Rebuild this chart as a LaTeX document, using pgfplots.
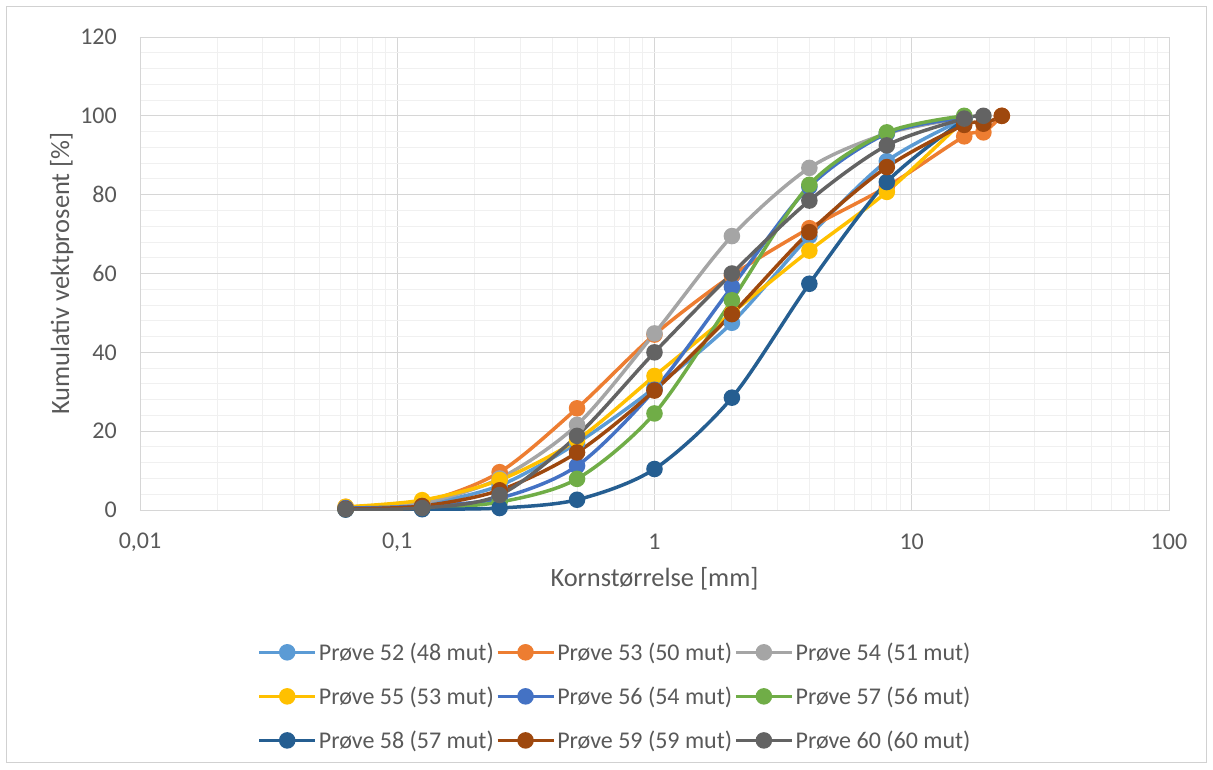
\documentclass[border=0pt]{standalone}
\usepackage{pgfplots}
\pgfplotsset{compat=1.18}
\usepackage{fontspec}
\setmainfont{Carlito}
\definecolor{txt}{HTML}{595959}
\definecolor{c52}{HTML}{5B9BD5}
\definecolor{c53}{HTML}{ED7D31}
\definecolor{c54}{HTML}{A5A5A5}
\definecolor{c55}{HTML}{FFC000}
\definecolor{c56}{HTML}{4472C4}
\definecolor{c57}{HTML}{70AD47}
\definecolor{c58}{HTML}{255E91}
\definecolor{c59}{HTML}{9E480E}
\definecolor{c60}{HTML}{636363}
\begin{document}
\begin{tikzpicture}
\useasboundingbox (-140pt,-259pt) rectangle (1073pt,510pt);
\draw[color=black!18, line width=1pt] (-133pt,-252pt) rectangle (1066pt,503pt);
\begin{axis}[
  at={(0pt,0pt)}, anchor=south west,
  scale only axis, width=1029pt, height=473pt,
  xmode=log, xmin=0.01, xmax=100, ymin=0, ymax=120,
  xtick={0.01,0.1,1,10,100},
  xticklabels={{0,01},{0,1},1,10,100},
  ytick={0,20,...,120}, minor y tick num=4,
  grid=both,
  major grid style={draw=black!16, line width=0.9pt},
  minor grid style={draw=black!6, line width=0.9pt},
  axis line style={draw=black!16, line width=0.9pt},
  tick style={draw=none},
  major tick length=0pt, minor tick length=0pt,
  /pgf/number format/assume math mode=true,
  ticklabel style={font=\fontsize{24}{28}\selectfont, text=txt, inner sep=0pt},
  xticklabel style={anchor=center, yshift=-32pt},
  yticklabel style={anchor=east, xshift=-23pt},
  label style={font=\fontsize{26.4}{30}\selectfont, text=txt},
  xlabel={Kornstørrelse [mm]},
  ylabel={Kumulativ vektprosent [\%]},
  xlabel style={at={(axis description cs:0.5,-0.146)}, anchor=center},
  ylabel style={at={(axis description cs:-0.076,0.5)}, anchor=center},
  every axis plot/.append style={line width=3.5pt, smooth, tension=0.5, mark=*, mark size=6.5pt},
  legend columns=3,
  legend cell align=left,
  legend style={at={(axis description cs:0.4616,-0.394)}, anchor=center, draw=none, fill=none,
    font=\fontsize{24}{28}\selectfont, text=txt,
    /tikz/every even column/.append style={column sep=0pt},
    row sep=21pt},
  legend image code/.code={\draw[#1, mark repeat=2, mark phase=2] plot coordinates {(0pt,0pt)(28pt,0pt)(56pt,0pt)};},
]
\addplot[color=c52, mark options={fill=c52}] coordinates {(0.063,0.5)(0.125,1.5)(0.25,6.2)(0.5,17)(1,31)(2,47.5)(4,69.5)(8,88.5)(16,99.2)};
\addlegendentry{Prøve 52 (48 mut)}
\addplot[color=c53, mark options={fill=c53}] coordinates {(0.063,0.8)(0.125,2)(0.25,9.6)(0.5,25.8)(1,44.5)(2,59.5)(4,71.5)(8,82)(16,94.8)(19,95.8)(22.4,100)};
\addlegendentry{Prøve 53 (50 mut)}
\addplot[color=c54, mark options={fill=c54}] coordinates {(0.063,0.5)(0.125,1.8)(0.25,8)(0.5,21.6)(1,44.8)(2,69.5)(4,86.8)(8,95.5)(16,99.5)};
\addlegendentry{Prøve 54 (51 mut)}
\addplot[color=c55, mark options={fill=c55}] coordinates {(0.063,0.8)(0.125,2.5)(0.25,7.6)(0.5,17.8)(1,34)(2,50)(4,65.8)(8,80.7)(16,99)};
\addlegendentry{Prøve 55 (53 mut)}
\addplot[color=c56, mark options={fill=c56}] coordinates {(0.063,0.5)(0.125,1)(0.25,3)(0.5,11.2)(1,30.5)(2,56.6)(4,82)(8,95.5)(16,99.5)};
\addlegendentry{Prøve 56 (54 mut)}
\addplot[color=c57, mark options={fill=c57}] coordinates {(0.063,0.2)(0.125,0.5)(0.25,2)(0.5,7.9)(1,24.5)(2,53.2)(4,82.5)(8,95.8)(16,100)};
\addlegendentry{Prøve 57 (56 mut)}
\addplot[color=c58, mark options={fill=c58}] coordinates {(0.063,0.1)(0.125,0.2)(0.25,0.5)(0.5,2.6)(1,10.4)(2,28.5)(4,57.4)(8,83.2)(16,99)};
\addlegendentry{Prøve 58 (57 mut)}
\addplot[color=c59, mark options={fill=c59}] coordinates {(0.063,0.3)(0.125,1)(0.25,5)(0.5,14.6)(1,30.3)(2,49.7)(4,70.5)(8,87)(16,97.7)(19,98)(22.4,100)};
\addlegendentry{Prøve 59 (59 mut)}
\addplot[color=c60, mark options={fill=c60}] coordinates {(0.063,0.2)(0.125,0.5)(0.25,3.8)(0.5,18.8)(1,40)(2,60)(4,78.5)(8,92.5)(16,99.3)(19,100)};
\addlegendentry{Prøve 60 (60 mut)}
\end{axis}
\end{tikzpicture}
\end{document}
